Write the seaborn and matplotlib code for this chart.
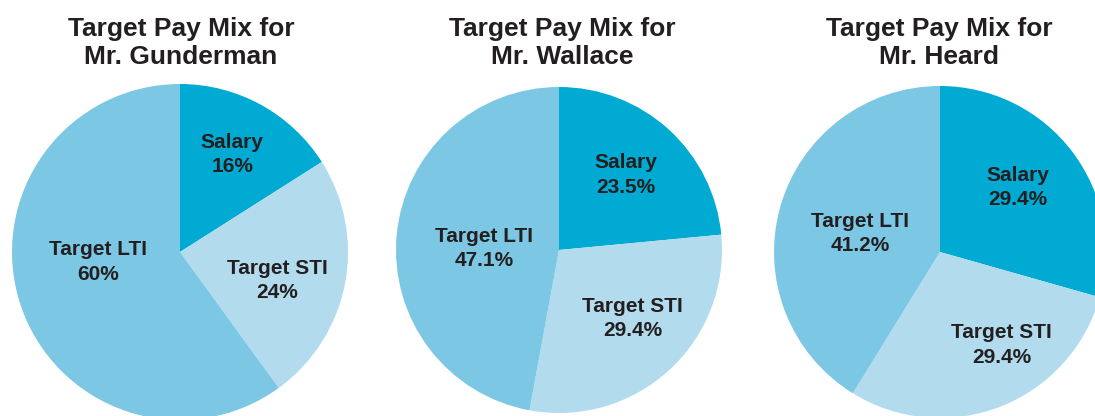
import matplotlib
matplotlib.use("Agg")
import matplotlib.pyplot as plt
import seaborn as sns

sns.set_style("white")
plt.rcParams["font.family"] = ["Liberation Sans", "DejaVu Sans"]

# Pay mix data
executives = ["Mr. Gunderman", "Mr. Wallace", "Mr. Heard"]
components = ["Salary", "Target STI", "Target LTI"]
salary = [16, 23.5, 29.4]
target_sti = [24, 29.4, 29.4]
target_lti = [60, 47.1, 41.2]
value_labels = [["16%", "24%", "60%"],
                ["23.5%", "29.4%", "47.1%"],
                ["29.4%", "29.4%", "41.2%"]]

colors = ["#00AAD2", "#B2DCEE", "#7CC8E4"]
text_color = "#231F20"

W, H = 1095, 416
fig = plt.figure(figsize=(W / 100, H / 100), dpi=100)

# pie placement in pixels: centre x, centre y (from top), radius
layout = [(180, 252, 168), (559, 250, 163), (940, 252, 166)]
title_x = [181, 562, 939]
# label anchor points, in pie-radius units
label_pos = [
    [(0.31, 0.58), (0.58, -0.17), (-0.49, -0.06)],
    [(0.41, 0.46), (0.45, -0.42), (-0.46, 0.01)],
    [(0.47, 0.39), (0.37, -0.56), (-0.48, 0.11)],
]

for i, name in enumerate(executives):
    cx, cy, r = layout[i]
    ax = fig.add_axes([(cx - r) / W, (H - cy - r) / H, 2 * r / W, 2 * r / H])
    vals = [salary[i], target_sti[i], target_lti[i]]
    wedges, _ = ax.pie(vals, colors=colors, startangle=90, counterclock=False,
                       radius=1, wedgeprops=dict(linewidth=0))
    for w in wedges:
        w.set_clip_on(False)
    for j, comp in enumerate(components):
        x, y = label_pos[i][j]
        ax.text(x, y, f"{comp}\n{value_labels[i][j]}", ha="center", va="center",
                fontsize=15, fontweight="bold", color=text_color, linespacing=1.35)
    ax.set_xlim(-1, 1)
    ax.set_ylim(-1, 1)
    ax.set_aspect("equal")
    ax.axis("off")
    fig.text(title_x[i] / W, 1 - 43 / H, f"Target Pay Mix for\n{name}", ha="center",
             va="center", fontsize=19, fontweight="bold", color=text_color,
             linespacing=1.25)

fig.savefig("out.png", dpi=100)
